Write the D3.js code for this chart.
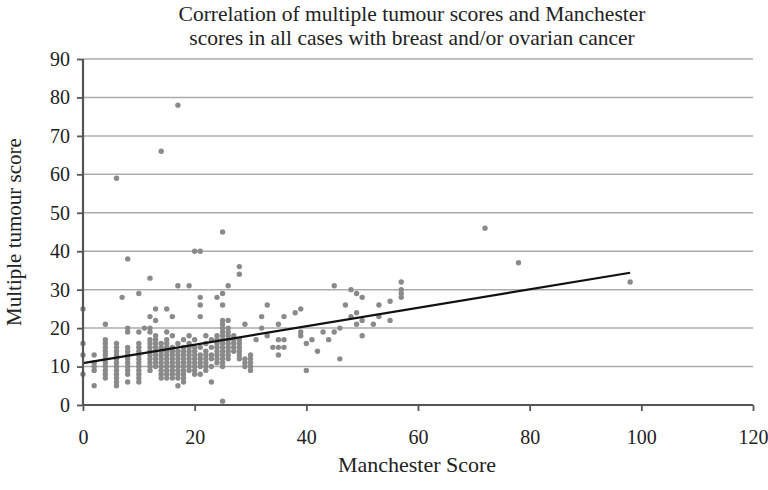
<!DOCTYPE html>
<html>
<head>
<meta charset="utf-8">
<script src="https://cdn.jsdelivr.net/npm/d3@7"></script>
<style>
  html, body { margin: 0; padding: 0; background: #fff; }
  svg { display: block; }
  text { font-family: "Liberation Serif", "DejaVu Serif", serif; fill: #222; }
</style>
</head>
<body>
<svg id="chart" width="768" height="490"></svg>
<script>
// ---- Data ----
const titleLines = ["Correlation of multiple tumour scores and Manchester",
                    "scores in all cases with breast and/or ovarian cancer"];
const xTicks = [0, 20, 40, 60, 80, 100, 120];
const yTicks = [0, 10, 20, 30, 40, 50, 60, 70, 80, 90];

// Manchester score (x) for each case, with matching multiple tumour score (y)
const manchester = [
  0,0,0,0,
  2,2,2,2,2,
  4,4,4,4,4,4,4,4,4,4,4,4,
  6,6,6,6,6,6,6,6,6,6,6,6,6,
  7,
  8,8,8,8,8,8,8,8,8,8,8,8,
  10,10,10,10,10,10,10,10,10,10,10,10,10,
  11,
  12,12,12,12,12,12,12,12,12,12,12,12,12,
  13,13,13,13,13,13,13,13,13,13,13,
  14,14,14,14,14,14,14,14,14,14,14,
  15,15,15,15,15,15,15,15,15,15,15,15,15,
  16,16,16,16,16,16,16,16,16,16,16,
  17,17,17,17,17,17,17,17,17,17,17,17,
  18,18,18,18,18,18,18,18,18,18,18,
  19,19,19,19,19,19,19,19,19,19,
  20,20,20,20,20,20,20,20,20,20,
  21,21,21,21,21,21,21,21,21,21,
  22,22,22,22,22,22,22,22,
  23,23,23,23,23,23,
  24,24,24,24,24,24,24,24,24,
  25,25,25,25,25,25,25,25,25,25,25,25,25,25,25,25,25,
  26,26,26,26,26,26,26,26,26,26,26,
  27,27,27,27,27,
  28,28,28,28,28,28,28,28,
  29,29,29,29,
  30,30,30,30,30,
  31, 32,32, 33,33, 34, 35,35,35,35, 36,36,36, 38, 39,39,39, 40,40, 41, 42, 43, 44,
  45,45, 46,46, 47, 48,48, 49,49,49, 50,50,50, 52, 53,53, 55,55, 57,57,57,57,
  72, 78, 98
];
const tumour = [
  25,16,13,8,
  13,11,10,9,5,
  21,17,16,15,14,13,12,11,10,9,8,7,
  59,16,15,14,13,12,11,10,9,8,7,6,5,
  28,
  38,20,19,15,14,13,12,11,10,9,8,6,
  29,19,16,15,14,13,12,11,10,9,8,7,6,
  20,
  33,23,20,19,17,16,15,14,13,12,11,10,9,
  25,22,18,17,16,15,14,13,12,11,10,
  66,16,15,14,13,12,11,10,9,8,7,
  25,19,17,16,15,14,13,12,11,10,9,8,7,
  23,18,15,14,13,12,11,10,9,8,7,
  78,31,16,14,13,12,11,10,9,8,7,5,
  17,15,14,13,12,11,10,9,8,7,6,
  31,18,16,15,14,13,12,11,10,9,
  40,17,15,14,13,12,11,10,9,8,
  40,28,26,23,15,13,12,11,10,8,
  18,16,14,13,12,11,10,9,
  17,15,13,12,10,6,
  28,18,17,16,15,14,13,12,11,
  45,29,26,22,21,20,19,18,17,16,15,14,13,12,11,10,1,
  31,22,20,19,18,17,16,15,14,13,12,
  18,17,16,15,14,
  36,34,17,16,15,14,13,12,
  21,12,11,10,
  13,12,11,10,9,
  17, 23,20, 26,18, 15, 21,17,15,13, 23,17,15, 24, 25,19,18, 16,9, 17, 14, 19, 17,
  31,19, 20,12, 26, 30,23, 29,24,21, 28,22,18, 21, 26,23, 27,22, 32,30,29,28,
  46, 37, 32
];

// Fitted trend line (endpoints)
const trendX = [0, 98];
const trendY = [10.9, 34.4];

// ---- Layout ----
const W = 768, H = 490;
const margin = { left: 83, right: 15, top: 59, bottom: 85 };
const svg = d3.select("#chart");

const x = d3.scaleLinear().domain([0, 120]).range([margin.left, W - margin.right]);
const y = d3.scaleLinear().domain([0, 90]).range([H - margin.bottom, margin.top]);

// Gridlines
svg.append("g")
  .selectAll("line")
  .data(yTicks.filter(d => d > 0))
  .join("line")
  .attr("x1", x(0)).attr("x2", x(120))
  .attr("y1", d => y(d)).attr("y2", d => y(d))
  .attr("stroke", "#ababab")
  .attr("stroke-width", 1.5);

// Points
const pts = manchester.map((m, i) => ({ m, t: tumour[i] }));
svg.append("g")
  .selectAll("circle")
  .data(pts)
  .join("circle")
  .attr("cx", d => x(d.m))
  .attr("cy", d => y(d.t))
  .attr("r", 2.7)
  .attr("fill", "#8a8a8a");

// Trend line
const line = d3.line().x(d => x(d[0])).y(d => y(d[1]));
svg.append("path")
  .datum(trendX.map((v, i) => [v, trendY[i]]))
  .attr("d", line)
  .attr("fill", "none")
  .attr("stroke", "#111")
  .attr("stroke-width", 2.2);

// Axes
const xAxis = d3.axisBottom(x).tickValues(xTicks).tickSize(6).tickPadding(19).tickFormat(d3.format("d"));
const yAxis = d3.axisLeft(y).tickValues(yTicks).tickSize(6).tickPadding(7).tickFormat(d3.format("d"));

const gx = svg.append("g")
  .attr("transform", `translate(0,${y(0)})`)
  .call(xAxis);
const gy = svg.append("g")
  .attr("transform", `translate(${x(0)},0)`)
  .call(yAxis);

[gx, gy].forEach(g => {
  g.select(".domain").attr("stroke", "#555").attr("stroke-width", 2.2);
  g.selectAll(".tick line").attr("stroke", "#555").attr("stroke-width", 1.8);
  g.selectAll(".tick text")
    .attr("font-family", "Liberation Serif, serif")
    .attr("font-size", 20)
    .attr("fill", "#222");
});
gx.select(".domain").attr("d", `M${x(0)},0H${x(120)}`);
gy.select(".domain").attr("d", `M0,${y(0)}V${y(90)}`);

// Title
const cx = 412;
svg.append("text")
  .attr("text-anchor", "middle")
  .attr("font-size", 21.5)
  .selectAll("tspan")
  .data(titleLines)
  .join("tspan")
  .attr("x", cx)
  .attr("y", (d, i) => 21 + i * 24)
  .text(d => d);

// Axis titles
svg.append("text")
  .attr("x", 417)
  .attr("y", 472)
  .attr("text-anchor", "middle")
  .attr("font-size", 22)
  .text("Manchester Score");

svg.append("text")
  .attr("transform", `translate(21,${(y(0) + y(90)) / 2}) rotate(-90)`)
  .attr("text-anchor", "middle")
  .attr("font-size", 21)
  .text("Multiple tumour score");
</script>
</body>
</html>
